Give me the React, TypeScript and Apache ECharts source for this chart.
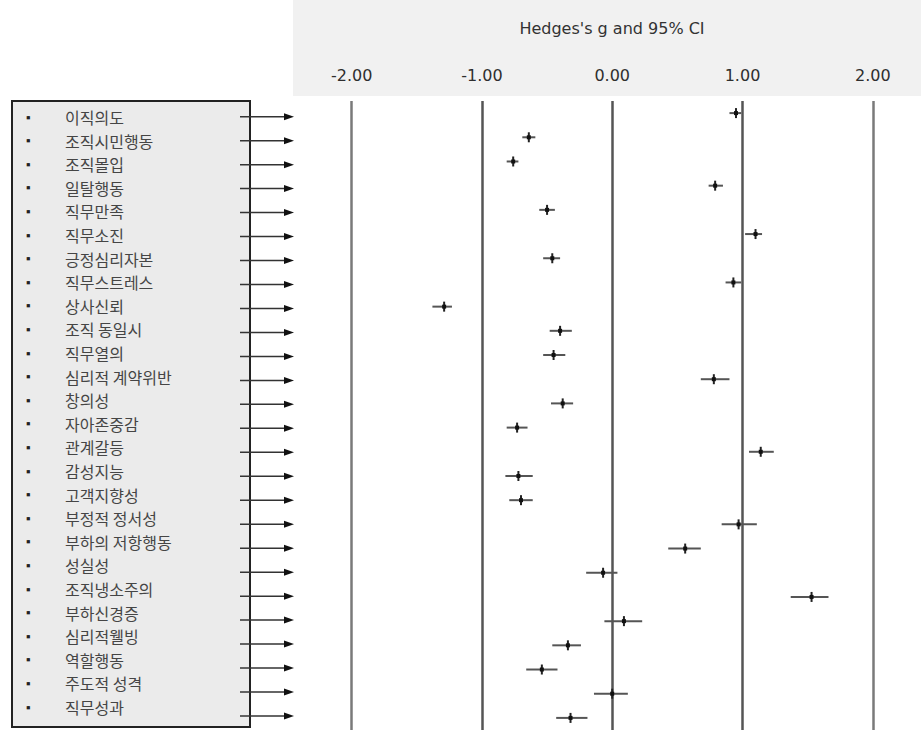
import React, { useEffect, useRef } from "react";
import * as echarts from "echarts";

const labels = [
  "이직의도", "조직시민행동", "조직몰입", "일탈행동", "직무만족", "직무소진",
  "긍정심리자본", "직무스트레스", "상사신뢰", "조직 동일시", "직무열의", "심리적 계약위반",
  "창의성", "자아존중감", "관계갈등", "감성지능", "고객지향성", "부정적 정서성",
  "부하의 저항행동", "성실성", "조직냉소주의", "부하신경증", "심리적웰빙", "역할행동",
  "주도적 성격", "직무성과",
];
const hedgesG = [
  0.95, -0.64, -0.76, 0.79, -0.5, 1.1, -0.46, 0.93, -1.29, -0.4, -0.45, 0.78,
  -0.38, -0.73, 1.14, -0.72, -0.7, 0.97, 0.56, -0.07, 1.53, 0.09, -0.34, -0.54,
  0.0, -0.32,
];
const lowerCI = [
  0.9, -0.69, -0.81, 0.74, -0.56, 1.02, -0.53, 0.87, -1.38, -0.48, -0.53, 0.68,
  -0.47, -0.81, 1.05, -0.82, -0.79, 0.84, 0.43, -0.2, 1.37, -0.06, -0.46, -0.66,
  -0.14, -0.43,
];
const upperCI = [
  0.99, -0.59, -0.72, 0.85, -0.44, 1.15, -0.4, 0.99, -1.23, -0.31, -0.36, 0.9,
  -0.3, -0.65, 1.24, -0.61, -0.61, 1.11, 0.68, 0.04, 1.66, 0.23, -0.24, -0.42,
  0.12, -0.19,
];
const tickValues = [-2, -1, 0, 1, 2];
const axisTitle = "Hedges's g and 95% CI";

export default function App() {
  const ref = useRef<HTMLDivElement>(null);
  useEffect(() => {
    if (!ref.current) return;
    const chart = echarts.init(ref.current, undefined, { renderer: "svg" });
    const rows = labels.map((_, i) => i);
    const pointData = labels.map((_, i) => [i, hedgesG[i], lowerCI[i], upperCI[i]]);
    const option: any = {
      animation: false,
      backgroundColor: "#ffffff",
      graphic: [
        {
          type: "rect",
          z: -10,
          shape: { x: 293, y: 0, width: 628, height: 96 },
          style: { fill: "#f1f1f1" },
        },
        {
          type: "rect",
          z: -10,
          shape: { x: 12, y: 101, width: 238, height: 626 },
          style: { fill: "#ebebeb", stroke: "#222", lineWidth: 2 },
        },
        {
          type: "text",
          x: 612,
          y: 28,
          style: {
            text: axisTitle,
            fill: "#333",
            font: "16px 'DejaVu Sans'",
            textAlign: "center",
            textVerticalAlign: "middle",
          },
        },
      ],
      grid: [
        { left: 293, top: 101, width: 628, height: 634 },
        { left: 245, top: 105.2, width: 5, height: 613.6 },
        { left: 245, top: 104.7, width: 5, height: 623.3 },
      ],
      xAxis: [
        {
          type: "value",
          gridIndex: 0,
          min: -2.45,
          max: 2.37,
          position: "top",
          axisLine: { show: false },
          axisTick: { show: false },
          splitLine: { show: false },
          axisLabel: {
            customValues: tickValues,
            formatter: (v: number) => v.toFixed(2),
            margin: 18,
            color: "#2e2e2e",
            fontSize: 16,
            fontFamily: "DejaVu Sans",
          },
        },
        { type: "value", gridIndex: 1, show: false, min: 0, max: 1 },
        { type: "value", gridIndex: 2, show: false, min: 0, max: 1 },
      ],
      yAxis: [
        {
          type: "category",
          gridIndex: 0,
          data: labels,
          inverse: true,
          show: false,
        },
        {
          type: "category",
          gridIndex: 1,
          data: labels,
          inverse: true,
          axisLine: { show: false },
          axisTick: { show: false },
          axisLabel: {
            align: "left",
            margin: 219,
            interval: 0,
            formatter: (v: string) => `{b|▪}{t|${v}}`,
            rich: {
              b: {
                width: 39,
                fontSize: 13,
                lineHeight: 18,
                color: "#222",
                verticalAlign: "middle",
              },
              t: {
                fontSize: 16,
                lineHeight: 18,
                color: "#454545",
                fontFamily: "'Noto Sans CJK KR'",
                verticalAlign: "middle",
              },
            },
          },
        },
        {
          type: "category",
          gridIndex: 2,
          data: labels,
          inverse: true,
          show: false,
        },
      ],
      series: [
        {
          type: "custom",
          xAxisIndex: 0,
          yAxisIndex: 0,
          data: pointData,
          encode: { x: [1, 2, 3], y: 0 },
          z: 5,
          renderItem: (params: any, api: any) => {
            const idx = api.value(0);
            const p = api.coord([api.value(1), idx]);
            const pl = api.coord([api.value(2), idx]);
            const ph = api.coord([api.value(3), idx]);
            return {
              type: "group",
              children: [
                {
                  type: "line",
                  shape: { x1: pl[0], y1: p[1], x2: ph[0], y2: p[1] },
                  style: { stroke: "#555", lineWidth: 2 },
                },
                {
                  type: "line",
                  shape: { x1: p[0], y1: p[1] - 5, x2: p[0], y2: p[1] + 5 },
                  style: { stroke: "#222", lineWidth: 2 },
                },
                {
                  type: "rect",
                  shape: { x: p[0] - 2, y: p[1] - 2, width: 4, height: 4 },
                  style: { fill: "#111" },
                },
              ],
            };
          },
          markLine: {
            silent: true,
            symbol: ["none", "none"],
            label: { show: false },
            z: 1,
            data: tickValues.map((v) => ({
              xAxis: v,
              lineStyle: {
                color: Math.abs(v) === 2 ? "#7a7a7a" : "#555",
                width: 2.5,
                type: "solid",
              },
            })),
          },
        },
        {
          type: "custom",
          xAxisIndex: 2,
          yAxisIndex: 2,
          clip: false,
          data: rows.map((i) => [0, i]),
          encode: { x: 0, y: 1 },
          renderItem: (params: any, api: any) => {
            const y = api.coord([0, api.value(1)])[1];
            return {
              type: "group",
              children: [
                {
                  type: "line",
                  shape: { x1: 240, y1: y, x2: 286, y2: y },
                  style: { stroke: "#333", lineWidth: 1.5 },
                },
                {
                  type: "polygon",
                  shape: { points: [[284, y - 3.5], [294, y], [284, y + 3.5]] },
                  style: { fill: "#111" },
                },
              ],
            };
          },
        },
      ],
    };
    chart.setOption(option);
    return () => chart.dispose();
  }, []);
  return (
    <div
      ref={ref}
      style={{ position: "absolute", left: 0, top: 0, width: 921, height: 730 }}
    />
  );
}
